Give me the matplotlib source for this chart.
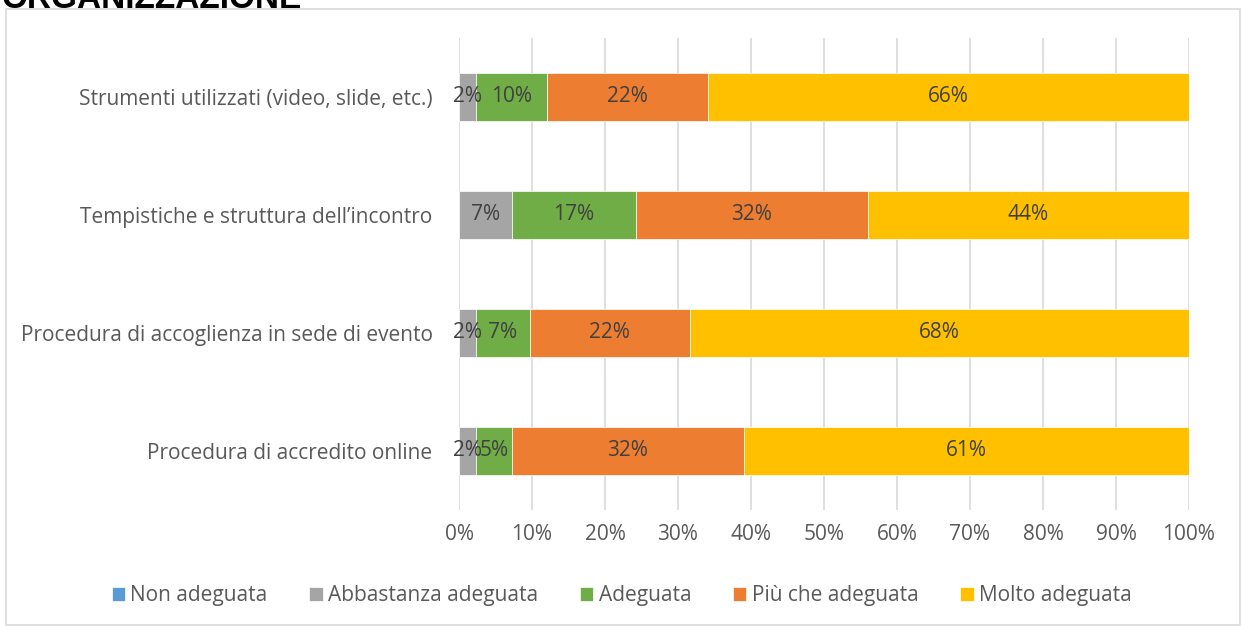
import matplotlib
matplotlib.use("Agg")
import matplotlib.pyplot as plt
from matplotlib.patches import Rectangle
import numpy as np

categories = ["Procedura di accredito online",
              "Procedura di accoglienza in sede di evento",
              "Tempistiche e struttura dell\u2019incontro",
              "Strumenti utilizzati (video, slide, etc.)"]
series = ["Non adeguata", "Abbastanza adeguata", "Adeguata", "Più che adeguata", "Molto adeguata"]
non_adeguata = [0, 0, 0, 0]
abbastanza = [2.3, 2.3, 7.3, 2.3]
adeguata = [5.0, 7.4, 16.9, 9.8]
piu_che = [31.7, 21.9, 31.8, 22.0]
molto = [61.0, 68.4, 44.0, 65.9]
colors = ["#5b9bd5", "#a5a5a5", "#70ad47", "#ed7d31", "#ffc000"]

plt.rcParams['font.family'] = ['Open Sans', 'DejaVu Sans']
FS = 15

fig = plt.figure(figsize=(12.43, 6.26), dpi=100)
W, H = 1243, 626
ax = fig.add_axes([459 / W, 1 - 510 / H, (1189 - 459) / W, (510 - 38) / H])

y = np.arange(len(categories))
left = np.zeros(len(categories))
data = [non_adeguata, abbastanza, adeguata, piu_che, molto]
for name, vals, c in zip(series, data, colors):
    vals = np.array(vals, dtype=float)
    ax.barh(y, vals, left=left, height=0.4, color=c, label=name, zorder=3,
            edgecolor="white", linewidth=0.5)
    for yi, (l, v) in enumerate(zip(left, vals)):
        if v > 0:
            ax.text(l + v / 2, yi, f"{round(v):d}%", ha="center", va="center",
                    fontsize=FS, color="#404040", zorder=4)
    left += vals

ax.set_xlim(0, 100)
ax.set_ylim(-0.5, 3.5)
ax.set_yticks(y)
ax.set_yticklabels(categories, fontsize=FS, color="#595959")
ax.set_xticks(np.arange(0, 101, 10))
ax.set_xticklabels([f"{v}%" for v in range(0, 101, 10)], fontsize=FS, color="#595959")
ax.tick_params(axis="y", length=0, pad=19)
ax.tick_params(axis="x", length=0, pad=10)
ax.grid(axis="x", color="#d9d9d9", linewidth=1.2, zorder=0)
for s in ax.spines.values():
    s.set_visible(False)

leg = fig.legend(loc="center", bbox_to_anchor=(0.5, 1 - 596 / H), ncol=5, frameon=False,
                 fontsize=FS, handlelength=0.65, handleheight=0.65, handletextpad=0.25,
                 columnspacing=2.0)
for t in leg.get_texts():
    t.set_color("#595959")

fig.patches.append(Rectangle((6 / W, 0.002), (1240 - 6) / W, 1 - 9 / H - 0.002,
                             transform=fig.transFigure, fill=False,
                             edgecolor="#d9d9d9", linewidth=1.2))
fig.text(2 / W, 1 - 8 / H, "ORGANIZZAZIONE", fontsize=24, fontweight="bold",
         color="#000000", va="baseline", ha="left", family=["Liberation Sans", "DejaVu Sans"])

fig.savefig("out.png", dpi=100)
